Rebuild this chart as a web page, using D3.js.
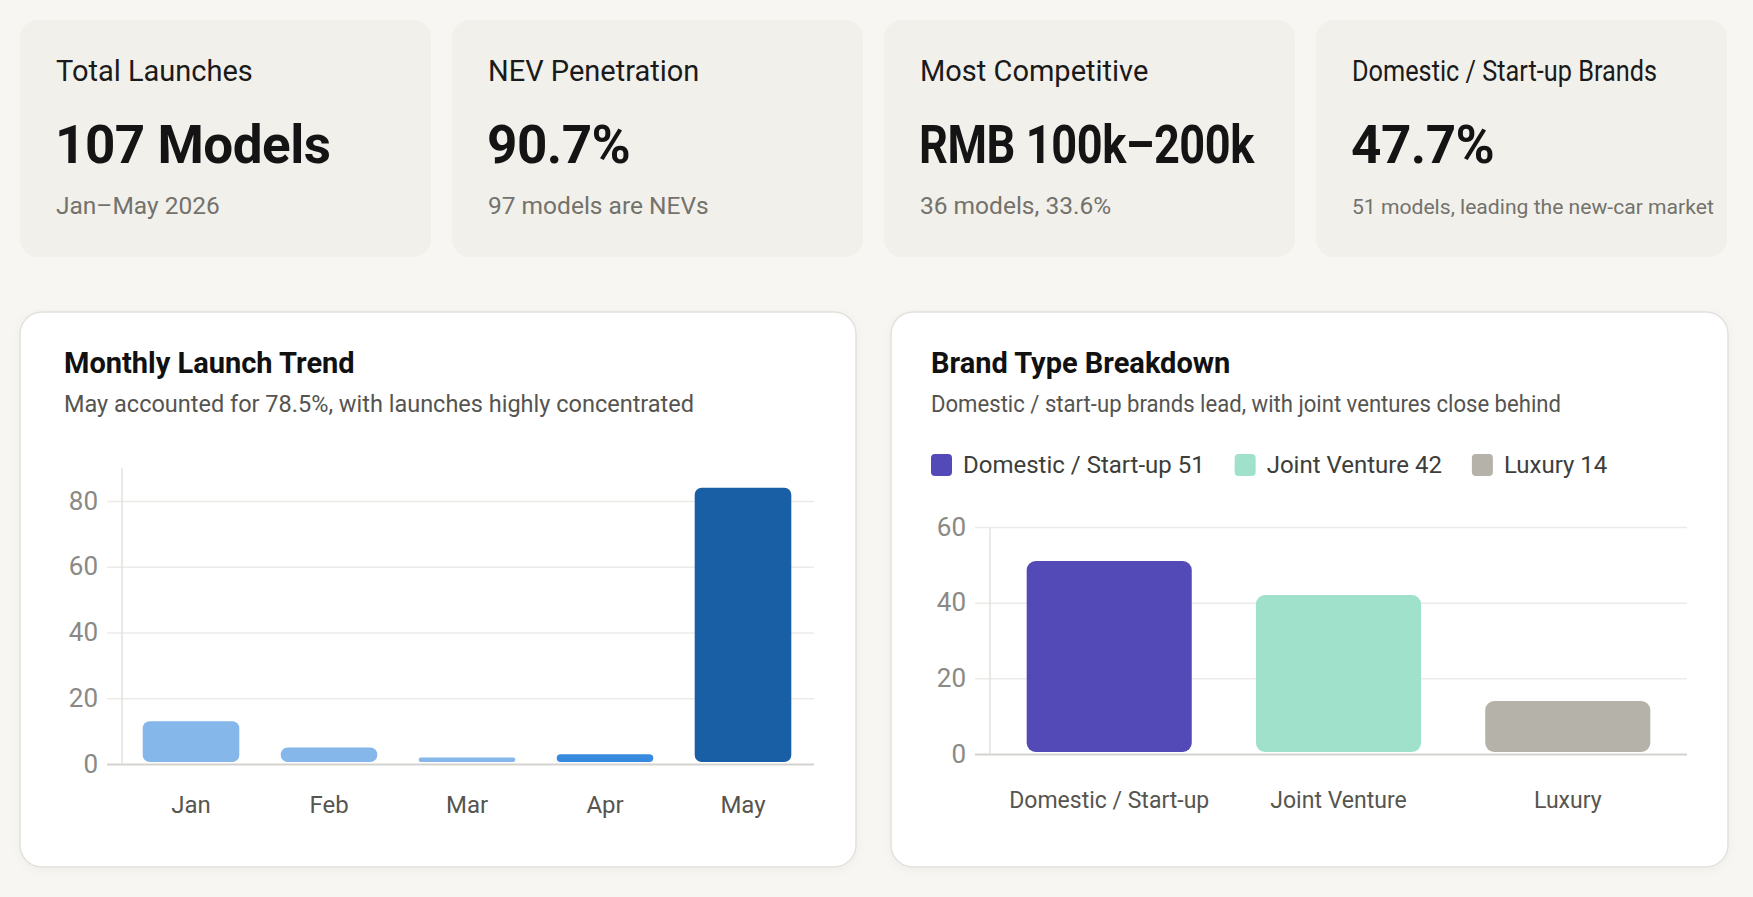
<!DOCTYPE html>
<html>
<head>
<meta charset="utf-8">
<script src="https://cdn.jsdelivr.net/npm/d3@7"></script>
<style>
  html, body { margin: 0; padding: 0; background: #f7f6f3; }
  svg { display: block; font-family: Roboto, "Noto Sans", sans-serif; }
</style>
</head>
<body>
<div id="page"></div>
<script>
// KPI strip
const kpiLabels = ["Total Launches", "NEV Penetration", "Most Competitive", "Domestic / Start-up Brands"];
const kpiValues = ["107 Models", "90.7%", "RMB 100k–200k", "47.7%"];
const kpiNotes = ["Jan–May 2026", "97 models are NEVs", "36 models, 33.6%", "51 models, leading the new-car market"];

// Monthly launches
const months = ["Jan", "Feb", "Mar", "Apr", "May"];
const monthlyLaunches = [13, 5, 2, 3, 84];
const monthlyTicks = [0, 20, 40, 60, 80];

// Brand type
const brandTypes = ["Domestic / Start-up", "Joint Venture", "Luxury"];
const brandCounts = [51, 42, 14];
const brandTicks = [0, 20, 40, 60];

const W = 1753, H = 897;
const svg = d3.select("#page").append("svg")
    .attr("width", W).attr("height", H);

svg.append("rect").attr("width", W).attr("height", H).attr("fill", "#f7f6f3");

const defs = svg.append("defs");
const shadow = defs.append("filter").attr("id", "soft").attr("x", "-5%").attr("y", "-5%")
    .attr("width", "110%").attr("height", "115%");
shadow.append("feDropShadow").attr("dx", 0).attr("dy", 2).attr("stdDeviation", 4)
    .attr("flood-color", "#000").attr("flood-opacity", 0.04);

// squeeze a text into maxW if the font runs wider than the original
function fit(sel, maxW) {
    sel.each(function() {
        if (this.getComputedTextLength() > maxW) {
            d3.select(this).attr("textLength", maxW).attr("lengthAdjust", "spacingAndGlyphs");
        }
    });
}

// shrink the font instead, for texts that would otherwise run off the page
function shrink(sel, maxW, size) {
    sel.each(function() {
        const len = this.getComputedTextLength();
        if (len > maxW) d3.select(this).style("font-size", (size * maxW / len).toFixed(2) + "px");
    });
}

// ---- KPI cards ----
const cardW = 411, cardH = 237, cardStep = 432;
const cards = svg.selectAll(".kpi")
    .data(kpiLabels.map((l, i) => ({ label: l, value: kpiValues[i], note: kpiNotes[i] })))
    .enter().append("g")
    .attr("class", "kpi")
    .attr("transform", (d, i) => `translate(${20 + i * cardStep}, 20)`);

cards.append("rect")
    .attr("width", cardW).attr("height", cardH).attr("rx", 18)
    .attr("fill", "#f2f0eb");

cards.append("text")
    .attr("x", 36).attr("y", 61)
    .style("font-size", "29px").style("fill", "#1a1a1a")
    .text(d => d.label)
    .call(fit, 305);

cards.append("text")
    .attr("x", 35).attr("y", 143)
    .style("font-size", "53px").style("font-weight", "bold").style("fill", "#141414")
    .style("letter-spacing", "-0.5px")
    .text(d => d.value)
    .call(fit, 335);

cards.append("text")
    .attr("x", 36).attr("y", 194)
    .style("font-size", "24.5px").style("fill", "#73726c")
    .text(d => d.note)
    .call(shrink, 362, 24.5);

// ---- panels ----
function panel(x, y, w, h, pad, title, subtitle) {
    const g = svg.append("g").attr("transform", `translate(${x}, ${y})`);
    g.append("rect")
        .attr("width", w).attr("height", h).attr("rx", 22)
        .attr("fill", "#fff").attr("stroke", "#e3e1dc").attr("stroke-width", 1.5)
        .attr("filter", "url(#soft)");
    g.append("text")
        .attr("x", pad).attr("y", 61)
        .style("font-size", "29px").style("font-weight", "bold").style("fill", "#111")
        .text(title);
    g.append("text")
        .attr("x", pad).attr("y", 100)
        .style("font-size", "23.5px").style("fill", "#55544f")
        .text(subtitle)
        .call(fit, 630);
    return g;
}

function yGrid(g, y, ticks, x0, x1) {
    const axis = d3.axisLeft(y).tickValues(ticks).tickSize(-(x1 - x0) - 15).tickPadding(10);
    const ga = g.append("g").attr("transform", `translate(${x0}, 0)`).call(axis);
    ga.select(".domain").remove();
    ga.selectAll(".tick line")
        .attr("x1", -15)
        .attr("x2", x1 - x0)
        .attr("stroke", d => d === 0 ? "#d4d3cf" : "#ecebe8")
        .attr("stroke-width", d => d === 0 ? 2 : 1.5);
    ga.selectAll(".tick text")
        .attr("x", -24)
        .style("font-size", "26px").style("fill", "#8a8985")
        .style("font-family", "Roboto, sans-serif");
    // vertical axis line
    g.append("line")
        .attr("x1", x0).attr("x2", x0)
        .attr("y1", y.range()[1]).attr("y2", y.range()[0])
        .attr("stroke", "#e3e2de").attr("stroke-width", 1.5);
}

function xLabels(g, x, yPos, size) {
    const axis = d3.axisBottom(x).tickSize(0).tickPadding(0);
    const ga = g.append("g").attr("transform", `translate(0, ${yPos})`).call(axis);
    ga.select(".domain").remove();
    ga.selectAll(".tick text")
        .attr("dy", 0)
        .style("font-size", size + "px").style("fill", "#56554f")
        .style("font-family", "Roboto, sans-serif");
}

function roundedBars(g, cats, vals, x, y, color, r) {
    g.selectAll(null)
        .data(cats.map((c, i) => ({ c, v: vals[i] })))
        .enter().append("rect")
        .attr("x", d => x(d.c))
        .attr("y", d => y(d.v))
        .attr("width", x.bandwidth())
        .attr("height", d => y(0) - y(d.v) - 2)
        .attr("rx", d => Math.min(r, (y(0) - y(d.v) - 2) / 2))
        .attr("fill", d => color(d.c));
}

// Monthly chart
panel(20, 312, 836, 555, 44, "Monthly Launch Trend",
    "May accounted for 78.5%, with launches highly concentrated");
const c1 = svg.append("g");
const x1 = d3.scaleBand().domain(months).range([122, 812]).paddingInner(0.3).paddingOuter(0.15);
const y1 = d3.scaleLinear().domain([0, 90]).range([764, 468]);
yGrid(c1, y1, monthlyTicks, 122, 814);
const monthColor = d3.scaleOrdinal().domain(months)
    .range(["#85b7eb", "#85b7eb", "#85b7eb", "#378add", "#185fa5"]);
roundedBars(c1, months, monthlyLaunches, x1, y1, monthColor, 7);
xLabels(c1, x1, 813, 24);

// Brand chart
panel(891, 312, 837, 555, 40, "Brand Type Breakdown",
    "Domestic / start-up brands lead, with joint ventures close behind");
const c2 = svg.append("g");
const brandColor = d3.scaleOrdinal().domain(brandTypes)
    .range(["#534ab7", "#9fe1cb", "#b4b2a9"]);

// legend
const legend = svg.append("g").attr("transform", "translate(931, 465)");
let lx = 0;
brandTypes.forEach((b, i) => {
    const item = legend.append("g").attr("transform", `translate(${lx}, 0)`);
    item.append("rect")
        .attr("x", 0).attr("y", -11).attr("width", 21).attr("height", 22).attr("rx", 4)
        .attr("fill", brandColor(b));
    const t = item.append("text")
        .attr("x", 32).attr("y", 8)
        .style("font-size", "24px").style("fill", "#3d3d3a")
        .text(`${b} ${brandCounts[i]}`);
    lx += 32 + t.node().getComputedTextLength() + 30;
});

const x2 = d3.scaleBand().domain(brandTypes).range([990, 1687]).paddingInner(0.28).paddingOuter(0.16);
const y2 = d3.scaleLinear().domain([0, 60]).range([754, 527]);
yGrid(c2, y2, brandTicks, 990, 1687);
roundedBars(c2, brandTypes, brandCounts, x2, y2, brandColor, 9);
xLabels(c2, x2, 808, 23);
</script>
</body>
</html>
